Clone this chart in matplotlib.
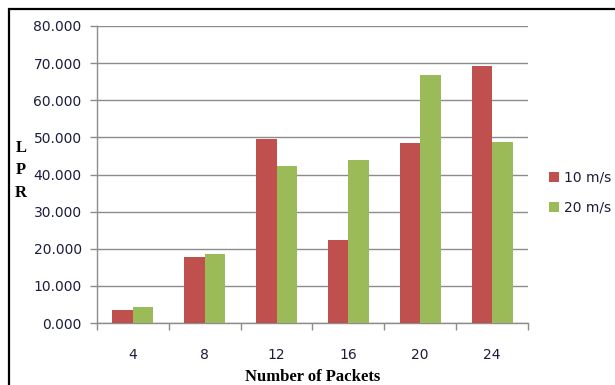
import numpy as np
import matplotlib
matplotlib.use('Agg')
import matplotlib.pyplot as plt
from matplotlib.patches import Rectangle
from matplotlib.ticker import FixedLocator, NullFormatter

# LPR per packet count, two node speeds
packets = ['4', '8', '12', '16', '20', '24']
lpr_10 = [3.5, 17.8, 49.6, 22.4, 48.4, 69.3]
lpr_20 = [4.3, 18.6, 42.3, 43.9, 66.8, 48.8]
series_names = ['10 m/s', '20 m/s']
y_ticks = [0, 10, 20, 30, 40, 50, 60, 70, 80]

RED = '#C0504D'
GREEN = '#9BBB59'
GRID = '#8C8C8C'
TXT = '#1c1c3c'

fig = plt.figure(figsize=(6.15, 3.85), dpi=100)
ax = fig.add_axes([0.1577, 0.161, 0.7008, 0.7715])

x = np.arange(len(packets))
w = 1 / 3.5
ax.bar(x - w / 2, lpr_10, w, color=RED, label=series_names[0], zorder=3)
ax.bar(x + w / 2, lpr_20, w, color=GREEN, label=series_names[1], zorder=3)

ax.set_xlim(-0.5, len(packets) - 0.5)
ax.set_ylim(0, 80)
ax.set_yticks(y_ticks)
ax.set_yticklabels([f'{v:.3f}' for v in y_ticks])
ax.yaxis.grid(True, color=GRID, lw=1.0, zorder=0)

# category labels centred, tick marks between groups
ax.set_xticks(x)
ax.set_xticklabels(packets)
ax.tick_params(axis='x', which='major', length=0, pad=18, labelsize=10, labelcolor=TXT)
ax.xaxis.set_minor_locator(FixedLocator(np.arange(-0.5, len(packets), 1.0)))
ax.xaxis.set_minor_formatter(NullFormatter())
ax.tick_params(axis='x', which='minor', length=5, color=GRID, width=1)
ax.tick_params(axis='y', length=5, color=GRID, width=1, labelsize=10, labelcolor=TXT, pad=6)

for side in ['top', 'right']:
    ax.spines[side].set_visible(False)
for side in ['left', 'bottom']:
    ax.spines[side].set_color(GRID)
    ax.spines[side].set_linewidth(1.0)

ax.set_xlabel('Number of Packets', family='Liberation Serif', fontweight='bold',
              fontsize=12, labelpad=5)
fig.text(0.034, 0.558, 'L\nP\nR', family='Liberation Serif', fontweight='bold',
         fontsize=12, ha='center', va='center', linespacing=1.55)

leg = fig.legend(loc='center left', bbox_to_anchor=(0.893, 0.499), frameon=False,
                 fontsize=10, handlelength=0.7, handleheight=0.7, handletextpad=0.4,
                 labelspacing=1.15, borderpad=0, borderaxespad=0)
for t in leg.get_texts():
    t.set_color(TXT)

# outer chart border
fig.patches.append(Rectangle((9 / 615, -0.1), 1.2, 1 - 9 / 385 + 0.1,
                             transform=fig.transFigure, fill=False,
                             edgecolor='black', lw=1.6, zorder=10))

fig.savefig('out.png', dpi=100)
